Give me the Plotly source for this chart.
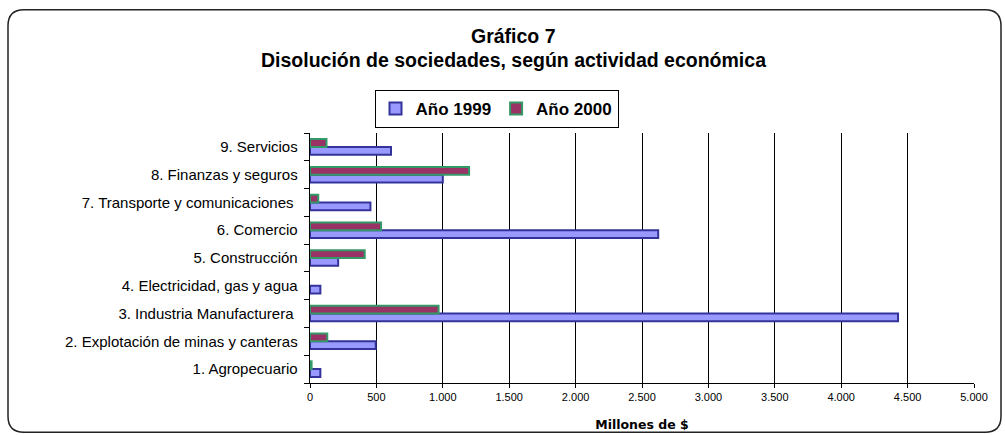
import plotly.graph_objects as go

# data (millones de $)
categorias = [
    "1. Agropecuario",
    "2. Explotación de minas y canteras",
    "3. Industria Manufacturera ",
    "4. Electricidad, gas y agua",
    "5. Construcción",
    "6. Comercio",
    "7. Transporte y comunicaciones ",
    "8. Finanzas y seguros",
    "9. Servicios",
]
anio_1999 = [78, 495, 4428, 78, 212, 2622, 455, 1000, 610]
anio_2000 = [12, 130, 968, None, 412, 535, 62, 1198, 124]
ticks_x = [0, 500, 1000, 1500, 2000, 2500, 3000, 3500, 4000, 4500, 5000]

W, H = 1005, 435
L, R, T, B = 310, 974, 133, 382.7


def px(x):
    return (x - L) / (R - L)


def py(y):
    return (B - y) / (B - T)


fig = go.Figure()
fig.add_trace(go.Bar(
    y=categorias, x=anio_1999, orientation="h", name="<b>Año 1999</b>",
    marker=dict(color="#9999FF", line=dict(color="#333399", width=2)),
))
fig.add_trace(go.Bar(
    y=categorias, x=anio_2000, orientation="h", name="<b>Año 2000</b>",
    marker=dict(color="#993366", line=dict(color="#339966", width=2)),
))

# rounded outer frame
x0, y0, x1, y1, r = 8, 10, 1001, 432, 16
path = (
    f"M {px(x0 + r)},{py(y0)} L {px(x1 - r)},{py(y0)} "
    f"Q {px(x1)},{py(y0)} {px(x1)},{py(y0 + r)} "
    f"L {px(x1)},{py(y1 - r)} Q {px(x1)},{py(y1)} {px(x1 - r)},{py(y1)} "
    f"L {px(x0 + r)},{py(y1)} Q {px(x0)},{py(y1)} {px(x0)},{py(y1 - r)} "
    f"L {px(x0)},{py(y0 + r)} Q {px(x0)},{py(y0)} {px(x0 + r)},{py(y0)} Z"
)
fig.add_shape(type="path", path=path, xref="paper", yref="paper",
              line=dict(color="#222222", width=1.5), layer="below")

fig.add_annotation(text="<b>Gráfico 7</b>", x=px(513), y=py(36), xref="paper", yref="paper",
                   xanchor="center", yanchor="middle",
                   showarrow=False, font=dict(size=19.5, color="black"))
fig.add_annotation(text="<b>Disolución de sociedades, según actividad económica</b>",
                   x=px(513), y=py(60), xref="paper", yref="paper",
                   xanchor="center", yanchor="middle",
                   showarrow=False, font=dict(size=19.5, color="black"))

fig.update_layout(
    width=W, height=H,
    margin=dict(l=L, r=W - R, t=T, b=H - B),
    paper_bgcolor="white", plot_bgcolor="white",
    barmode="group", bargap=0.44, bargroupgap=0,
    separators=",.",
    font=dict(family="Arial, Liberation Sans, sans-serif", color="black"),
    showlegend=True,
    legend=dict(
        orientation="h", x=px(496.5), xanchor="center", y=py(90), yanchor="top",
        bgcolor="white", bordercolor="black", borderwidth=1,
        font=dict(size=17, color="black", family="Arial, Liberation Sans, sans-serif"),
        traceorder="normal", itemwidth=30, tracegroupgap=0,
    ),
    xaxis=dict(
        range=[0, 5000], tickvals=ticks_x, tickformat=",d",
        showgrid=True, gridcolor="black", gridwidth=1,
        showline=True, linecolor="black", linewidth=1,
        ticks="outside", ticklen=4, tickcolor="black",
        tickfont=dict(size=11), zeroline=False, automargin=False,
        title=dict(text="<b>Millones de $</b>", standoff=18,
                   font=dict(size=12.5, family="DejaVu Sans, Verdana, sans-serif")),
    ),
    yaxis=dict(
        type="category", categoryorder="array", categoryarray=categorias,
        showgrid=False, showline=True, linecolor="black", linewidth=1,
        ticks="outside", ticklen=5, tickcolor="black", tickson="boundaries",
        tickfont=dict(size=15), ticksuffix="  ", automargin=False,
    ),
)

fig.write_html("out.html", config={"displayModeBar": False},
               post_script="document.body.style.margin = '0';")
